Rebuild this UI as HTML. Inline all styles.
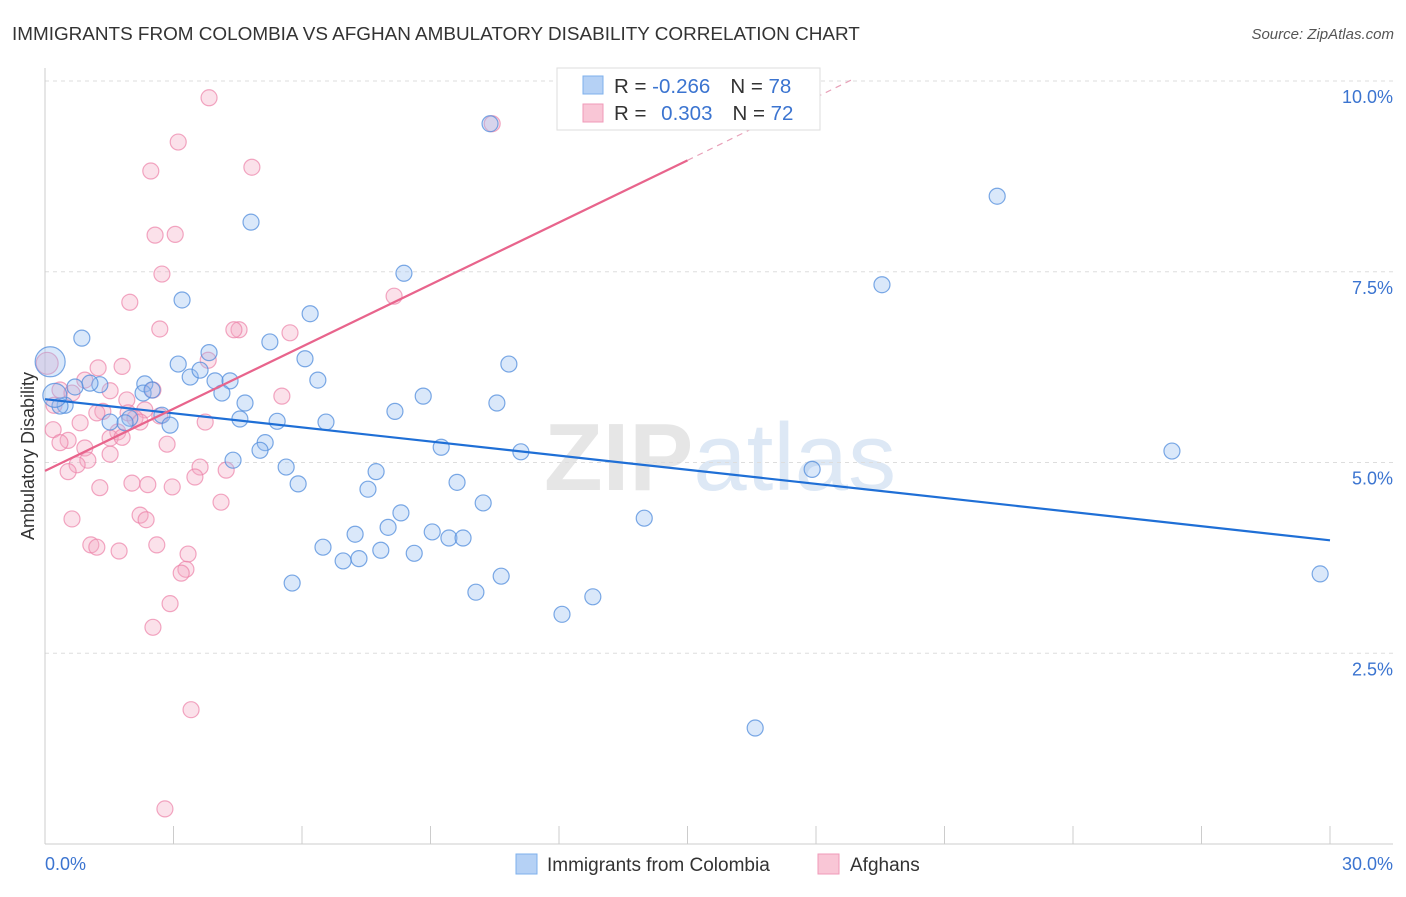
<!DOCTYPE html>
<html><head><meta charset="utf-8"><style>
body{margin:0;background:#fff;font-family:"Liberation Sans",sans-serif}
svg text{font-family:"Liberation Sans",sans-serif}
</style></head><body>
<svg id="chart" width="1406" height="892" xmlns="http://www.w3.org/2000/svg">
<text x="12" y="40" font-size="18.9" fill="#333">IMMIGRANTS FROM COLOMBIA VS AFGHAN AMBULATORY DISABILITY CORRELATION CHART</text>
<text x="1394" y="39" font-size="15" fill="#555" font-style="italic" text-anchor="end">Source: ZipAtlas.com</text>
<text x="720" y="490" font-size="96" fill="#e6e6e6" text-anchor="middle" font-weight="bold">ZIP<tspan fill="#dde8f5" font-weight="normal">atlas</tspan></text>
<g id="grid"></g>
<g id="marks"></g>
<g id="trend"></g>
<text x="34" y="456" font-size="18" fill="#333" text-anchor="middle" transform="rotate(-90 34 456)">Ambulatory Disability</text>
<g>
<rect x="557" y="68" width="263" height="62" fill="#fff" stroke="#ddd"/>
<rect x="583" y="76" width="20" height="18" fill="#b5d1f5" stroke="#7eb0ec"/>
<rect x="583" y="104" width="20" height="18" fill="#f9c6d6" stroke="#f09ab8"/>
<text x="614" y="93" font-size="20.5" fill="#333">R = <tspan fill="#3b74d0">-0.266</tspan><tspan dx="20">N = </tspan><tspan fill="#3b74d0">78</tspan></text>
<text x="614" y="120" font-size="20.5" fill="#333">R = <tspan fill="#3b74d0" dx="9">0.303</tspan><tspan dx="20">N = </tspan><tspan fill="#3b74d0">72</tspan></text>
</g>
<g>
<rect x="516" y="854" width="21" height="20" fill="#b5d1f5" stroke="#7eb0ec"/>
<text x="547" y="871" font-size="19" fill="#333">Immigrants from Colombia</text>
<rect x="818" y="854" width="21" height="20" fill="#f9c6d6" stroke="#f09ab8"/>
<text x="850" y="871" font-size="19" fill="#333">Afghans</text>
</g>
</svg>
<script>
const xTicks=[0,3,6,9,12,15,18,21,24,27,30];
const yTicks=[2.5,5,7.5,10];
const yTickLabels=["2.5%","5.0%","7.5%","10.0%"];
const blueX=[10.39,22.23,4.81,19.54,8.38,3.20,6.19,0.86,5.25,3.83,6.07,10.83,3.11,3.39,3.62,3.97,4.32,6.37,2.33,1.28,1.05,0.70,2.29,2.50,4.13,4.67,8.83,10.55,0.47,0.35,8.17,2.73,1.98,4.55,5.42,6.56,1.52,1.87,2.92,5.14,9.25,5.02,11.11,4.39,26.31,5.63,17.91,7.73,5.91,9.62,7.54,10.23,8.31,13.99,8.01,7.24,9.04,9.43,9.76,6.49,7.84,8.62,6.96,7.33,5.77,10.65,29.77,10.06,12.79,12.07,16.58,0.12,0.23];
const blueY=[9.44,8.49,8.15,7.33,7.48,7.13,6.95,6.63,6.58,6.44,6.36,6.29,6.29,6.12,6.21,6.07,6.07,6.08,6.03,6.02,6.04,5.99,5.91,5.95,5.91,5.78,5.87,5.78,5.75,5.74,5.67,5.62,5.58,5.57,5.54,5.53,5.53,5.52,5.49,5.26,5.20,5.16,5.14,5.03,5.15,4.94,4.91,4.88,4.72,4.74,4.65,4.47,4.34,4.27,4.15,4.06,4.09,4.01,4.01,3.89,3.85,3.81,3.71,3.74,3.42,3.51,3.54,3.30,3.24,3.01,1.52,6.32,5.88];
const blueR=Array(71).fill(8).concat([15,12]);
const pinkX=[3.83,10.44,3.11,4.83,2.47,2.57,3.04,2.73,8.15,1.98,2.68,4.53,4.41,5.72,3.81,1.24,1.80,0.93,0.35,2.52,1.52,0.63,1.91,0.21,2.33,1.35,1.21,1.94,2.68,2.10,0.82,2.22,3.74,0.19,1.70,1.52,0.54,0.35,1.80,0.93,2.85,1.52,1.00,0.75,3.62,0.54,3.50,4.23,2.03,2.40,2.97,1.28,4.11,2.22,2.36,0.63,1.07,1.21,1.73,2.61,3.34,3.29,3.18,2.92,2.52,3.41,2.80,5.53,0.05];
const pinkY=[9.78,9.44,9.20,8.87,8.82,7.98,7.99,7.47,7.18,7.10,6.75,6.74,6.74,6.70,6.34,6.24,6.26,6.08,5.95,5.95,5.94,5.91,5.82,5.75,5.69,5.67,5.65,5.65,5.61,5.58,5.52,5.53,5.53,5.43,5.40,5.32,5.29,5.26,5.33,5.19,5.24,5.11,5.03,4.97,4.94,4.88,4.81,4.90,4.73,4.71,4.68,4.67,4.48,4.31,4.25,4.26,3.92,3.89,3.84,3.92,3.80,3.60,3.55,3.15,2.84,1.76,0.46,5.87,6.3];
const pinkR=Array(68).fill(8).concat([11]);
const blueTrend=[[0,5.83],[30,3.98]];
const pinkTrend=[[0,4.89],[15,8.96]];
const pinkDash=[[15,8.96],[18.85,10.02]];

const X0=45,X1=1330,Y0=844,PY=76.3;
const sx=v=>X0+(v/30)*(X1-X0);
const sy=v=>Y0-v*PY;
const NS="http://www.w3.org/2000/svg";
function mk(tag,attrs,parent){const e=document.createElementNS(NS,tag);for(const k in attrs)e.setAttribute(k,attrs[k]);parent.appendChild(e);return e;}
const grid=document.getElementById('grid'),marks=document.getElementById('marks'),trend=document.getElementById('trend'),svg=document.getElementById('chart');
yTicks.forEach((t,i)=>{
 const l=mk('line',{x1:X0,x2:1393,y1:sy(t),y2:sy(t),stroke:'#ddd','stroke-dasharray':'4,4'},grid);
 
 
 const tx=mk('text',{x:1393,y:sy(t)+22,'font-size':18,fill:'#3b74d0','text-anchor':'end'},grid);
 tx.textContent=yTickLabels[i];
 
 
});
const ax=mk('line',{x1:X0,x2:X0,y1:68,y2:Y0,stroke:'#ccc'},grid);


const bx=mk('line',{x1:X0,x2:1393,y1:Y0,y2:Y0,stroke:'#ccc'},grid);


xTicks.forEach(t=>{
 const l=mk('line',{x1:sx(t),x2:sx(t),y1:826,y2:Y0,stroke:'#ccc'},grid);
 
 
});
const xl0=mk('text',{x:45,y:870,'font-size':18,fill:'#3b74d0'},grid);xl0.textContent='0.0%';


const xl1=mk('text',{x:1393,y:870,'font-size':18,fill:'#3b74d0','text-anchor':'end'},grid);xl1.textContent='30.0%';


pinkX.forEach((v,i)=>{
 const c=mk('circle',{cx:sx(v),cy:sy(pinkY[i]),r:pinkR[i],fill:'rgba(244,170,196,0.35)',stroke:'rgba(236,130,168,0.7)','stroke-width':1.2},marks);
 
 
});
blueX.forEach((v,i)=>{
 const c=mk('circle',{cx:sx(v),cy:sy(blueY[i]),r:blueR[i],fill:'rgba(150,190,240,0.35)',stroke:'rgba(80,140,220,0.75)','stroke-width':1.2},marks);
 
 
});
function ln(p,col,w,dash,name){const l=mk('line',{x1:sx(p[0][0]),y1:sy(p[0][1]),x2:sx(p[1][0]),y2:sy(p[1][1]),stroke:col,'stroke-width':w},trend);if(dash)l.setAttribute('stroke-dasharray',dash);
 
 }
ln(blueTrend,'#1f6fd6',2.2,null,'colombia-trend-line');
ln(pinkTrend,'#e8648c',2.2,null,'afghans-trend-line');
ln(pinkDash,'#e8a0b8',1.2,'6,5','afghans-trend-extension');
</script>
</body></html>
